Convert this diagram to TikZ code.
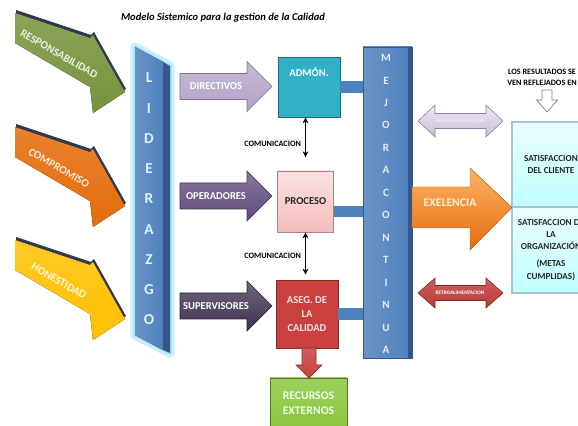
\documentclass[tikz,border=0pt]{standalone}
\usepackage{fontspec}
\setmainfont{Carlito}[BoldFont={Carlito Bold}, ItalicFont={Carlito Italic}, BoldItalicFont={Carlito Bold Italic}]
\usetikzlibrary{arrows.meta}

\definecolor{azul}{HTML}{4F81BD}
\definecolor{azulosc}{HTML}{34568A}
\definecolor{verde}{HTML}{77933C}
\definecolor{naranja}{HTML}{E46C0A}
\definecolor{amarillo}{HTML}{FFC000}
\definecolor{sombra}{HTML}{2E3B52}
\definecolor{lila}{HTML}{B3A2C7}
\definecolor{morado}{HTML}{604A7B}
\definecolor{moradoosc}{HTML}{3F3151}
\definecolor{turquesa}{HTML}{31B0C6}
\definecolor{rosa}{HTML}{F4BDBC}
\definecolor{rojo}{HTML}{C9413E}
\definecolor{lima}{HTML}{8CC63F}
\definecolor{brillo}{HTML}{A8E6F7}

\newcommand{\pix}{0.03cm}

\begin{document}
\begin{tikzpicture}[x=0.03cm, y=-0.03cm,
    caja/.style={draw, line width=0.8pt, align=center, inner sep=1pt,
      font=\bfseries\fontsize{9}{12}\selectfont},
    panel/.style={draw=cyan!35!gray!60, line width=1.2pt, top color=cyan!8, bottom color=cyan!25,
      minimum width=78*\pix, align=center, text=black!85,
      font=\bfseries\fontsize{7.8}{10.5}\selectfont},
    letrero/.style={text=white, font=\bfseries\fontsize{9}{11}\selectfont},
    enlace/.style={azul, line width=10pt},
    comunica/.style={{Stealth[length=5pt,width=5pt]}-{Stealth[length=5pt,width=5pt]}, line width=1.1pt},
  ]
  \useasboundingbox (0,0) rectangle (578,426);
  \clip (0,0) rectangle (578,426);

  \node[font=\bfseries\itshape\fontsize{9}{11}\selectfont] (titulo) at (223,18)
    {Modelo Sistemico para la gestion de la Calidad};

  % flechas de valores
  \foreach \tope/\col/\nom/\txt in {13/verde/resp/RESPONSABILIDAD,127/naranja/comp/COMPROMISO,240/amarillo/hone/HONESTIDAD} {
    \fill[sombra, shift={(1,-3)}] (15,\tope) -- (90,\tope+25) -- (93,\tope+22) -- (125,\tope+79)
      -- (93,\tope+100) -- (90,\tope+74) -- (15,\tope+30) -- cycle;
    \fill[top color=\col!85!white, bottom color=\col] (15,\tope) -- (90,\tope+25) -- (93,\tope+22) -- (125,\tope+79)
      -- (93,\tope+100) -- (90,\tope+74) -- (15,\tope+30) -- cycle;
    \node[letrero, rotate=-30, text=white!85!\col, font=\bfseries\fontsize{9.5}{11}\selectfont] (\nom) at (59,\tope+41) {\txt};
  }

  % liderazgo
  \draw[brillo!60, line width=8pt, line join=round, fill=brillo!60] (135,47) -- (170,66) -- (170,353) -- (135,335) -- cycle;
  \draw[brillo, line width=3pt, line join=round] (135,47) -- (170,66) -- (170,353) -- (135,335) -- cycle;
  \fill[left color=azul!85!white, right color=azul] (135,47) -- (163,62) -- (163,350) -- (135,335) -- cycle;
  \fill[azulosc] (163,62) -- (170,66) -- (170,353) -- (163,350) -- cycle;
  \foreach \letra [count=\i] in {L,I,D,E,R,A,Z,G,O}
    \node[letrero, text=white!85!cyan, font=\bfseries\fontsize{13}{15}\selectfont] (lid\i) at (149,78+30.25*\i-30.25) {\letra};

  % flechas de personal
  \foreach \cy/\col/\nom/\txt in {86.5/lila/directivos/DIRECTIVOS,196/morado/operadores/OPERADORES,306/moradoosc/supervisores/SUPERVISORES} {
    \path[draw=\col!70!black, line width=0.5pt, top color=\col!75!white, bottom color=\col]
      (180,\cy-13) -- (247,\cy-13) -- (247,\cy-25) -- (272,\cy) -- (247,\cy+25) -- (247,\cy+13) -- (180,\cy+13) -- cycle;
    \node[letrero] (\nom) at (216,\cy) {\txt};
  }

  % cajas
  \node[caja, fill=turquesa, draw=turquesa!60!black, minimum width=62*\pix, minimum height=60*\pix] (admon) at (309,87) {};
  \node[letrero] (admontxt) at (309,72) {ADMÓN.};
  \node[caja, top color=rosa!45!white, bottom color=rosa, draw=rosa!70!black, text=black!85,
    minimum width=56*\pix, minimum height=61*\pix] (proceso) at (305.5,201.5) {PROCESO};
  \node[caja, fill=rojo, draw=rojo!65!black, text=red!12, minimum width=62*\pix, minimum height=68*\pix] (aseg) at (307,314)
    {ASEG. DE\\LA\\CALIDAD};
  \node[caja, top color=lima!85!white, bottom color=lima, draw=lima!60!black, text=green!8, font=\bfseries\fontsize{10}{12.8}\selectfont,
    minimum width=77*\pix, minimum height=50*\pix] (recursos) at (308.5,403) {RECURSOS\\EXTERNOS};
  \path[draw=rojo!65!black, line width=0.5pt, top color=rojo!85!white, bottom color=rojo]
    (302,348) -- (316,348) -- (316,365) -- (322,365) -- (309,378) -- (296,365) -- (302,365) -- cycle;

  % comunicacion
  \draw[comunica, shorten >=0.4cm] (admon.south -| proceso.north) -- (proceso.north)
    node[midway, left, font=\bfseries\fontsize{7}{8}\selectfont] (com1) {COMUNICACION};
  \draw[comunica, shorten >=0.15cm] (proceso.south) -- (aseg.north -| proceso.south)
    node[midway, left, font=\bfseries\fontsize{7}{8}\selectfont] (com2) {COMUNICACION};

  % mejora continua
  \node[draw=azulosc, line width=0.8pt, left color=azul!85!white, right color=azul,
    minimum width=49*\pix, minimum height=311*\pix] (mejora) at (387.5,202.5) {};
  \fill[azulosc] ([xshift=-0.13cm]mejora.north east) rectangle (mejora.south east);
  \foreach \letra [count=\i] in {M,E,J,O,R,A,C,O,N,T,I,N,U,A}
    \node[letrero, text=white!85!azul, font=\bfseries\fontsize{9.5}{11}\selectfont] (mej\i) at (386,58+22.46*\i-22.46) {\letra};
  \coordinate (pe) at ([yshift=-0.3cm]proceso.east);
  \draw[enlace] (admon.east) -- (admon.east -| mejora.west);
  \draw[enlace] (pe) -- (pe -| mejora.west);
  \draw[enlace] (aseg.east) -- (aseg.east -| mejora.west);

  % resultados
  \node[panel, minimum height=85*\pix] (cliente) at (551,164.5) {SATISFACCION\\DEL CLIENTE};
  \node[panel, minimum height=86*\pix] (organizacion) at (551,250)
    {SATISFACCION DE\\LA\\ORGANIZACIÓN\\[4pt](METAS\\CUMPLIDAS)};
  \path[draw=naranja!80!black, line width=0.4pt, top color=orange!60!white, bottom color=naranja]
    (412,187) -- (470,187) -- (470,168) -- (512,207.5) -- (470,250) -- (470,228) -- (412,228) -- cycle;
  \node[letrero, text=orange!15, font=\bfseries\fontsize{10}{12}\selectfont] (exelencia) at (450,203) {EXELENCIA};

  \path[draw=lila!80!black, line width=0.5pt, top color=lila!25!white, bottom color=lila!70!white]
    (418,121) -- (435,105) -- (435,113.5) -- (486,113.5) -- (486,105) -- (503,121) -- (486,137)
    -- (486,128.5) -- (435,128.5) -- (435,137) -- cycle;
  \node[letrero, text=white!80!lila, font=\bfseries\fontsize{4.5}{5}\selectfont] (retro1) at (460,121) {RETROALIMENTACION};
  \path[draw=rojo!65!black, line width=0.5pt, top color=rojo!85!white, bottom color=rojo!90!black]
    (418,293) -- (435,278) -- (435,285.5) -- (486,285.5) -- (486,278) -- (503,293) -- (486,308)
    -- (486,300.5) -- (435,300.5) -- (435,308) -- cycle;
  \node[letrero, font=\bfseries\fontsize{4.5}{5}\selectfont] (retro2) at (460,293) {RETROALIMENTACION};

  \node[align=center, font=\bfseries\fontsize{7}{9.4}\selectfont] (resultados) at (542,77)
    {LOS RESULTADOS SE\\VEN REFLEJADOS EN};
  \draw[gray, fill=white, line width=0.6pt] (542,90) -- (552,90) -- (552,100) -- (557.5,100) -- (547,112)
    -- (536.5,100) -- (542,100) -- cycle;
\end{tikzpicture}
\end{document}
